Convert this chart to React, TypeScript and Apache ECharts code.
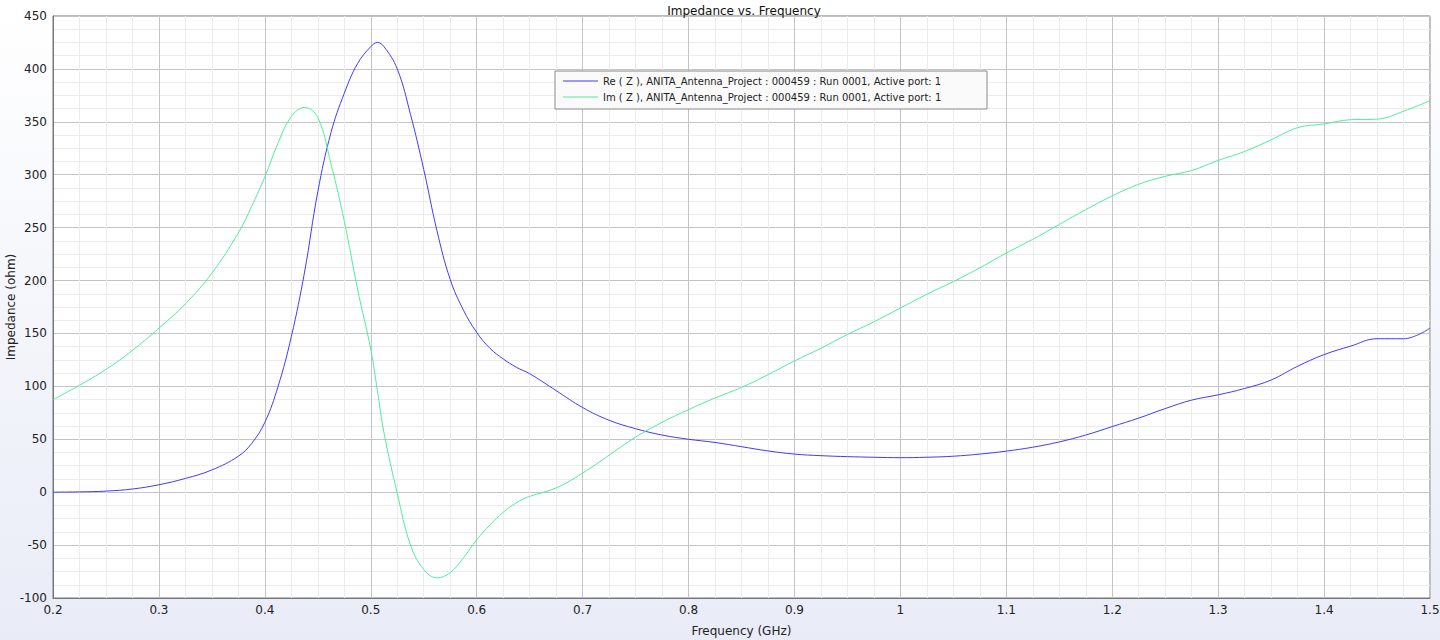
import React, { useEffect, useRef } from "react";
import * as echarts from "echarts";

const freqGHz = [
  0.2, 0.225, 0.25, 0.275, 0.3, 0.325, 0.35, 0.375, 0.3875, 0.4, 0.4125, 0.425, 0.4375, 0.45, 0.4625,
  0.475, 0.4875, 0.5, 0.50625, 0.5125, 0.525, 0.5375, 0.55, 0.5625, 0.575, 0.5875, 0.6, 0.6125, 0.625, 0.6375,
  0.65, 0.675, 0.7, 0.725, 0.75, 0.775, 0.8, 0.825, 0.85, 0.875, 0.9, 0.925, 0.95, 0.975, 1.0, 1.025,
  1.05, 1.075, 1.1, 1.125, 1.15, 1.175, 1.2, 1.225, 1.25, 1.275, 1.3, 1.325, 1.35, 1.375, 1.4, 1.425,
  1.45, 1.475, 1.5,
];

const reZ = [
  0, 0.3, 1, 3, 7, 13, 21, 34, 46, 66, 100, 147, 208, 284, 340,
  377, 405, 421, 425, 421, 400, 357, 305, 247, 201, 172, 151, 136, 126, 118,
  112, 96, 80, 68, 60, 54, 50, 47, 43, 39, 36, 34.5, 33.6, 33, 32.6, 33,
  34, 36, 38.8, 42.5, 47.5, 54, 62, 70, 79, 87, 92, 98, 106, 119, 130, 138,
  145, 145, 155,
];

const imZ = [
  87.5, 101, 116, 134, 155, 178, 207, 245, 270, 298, 330, 355, 363.5, 354, 310,
  256, 192, 135, 96, 56, -1, -50, -73, -81, -76, -62, -45, -31, -19, -10,
  -4, 4, 18, 35, 52, 66, 78, 89, 99, 111, 124, 136, 149, 161, 174, 187,
  199, 212, 226, 239, 253, 267, 280, 291, 298.5, 304, 313.5, 322, 333, 344.5, 348, 352,
  352.5, 360, 370,
];

const seriesNames = [
  "Re ( Z ), ANITA_Antenna_Project : 000459 : Run 0001, Active port: 1",
  "Im ( Z ), ANITA_Antenna_Project : 000459 : Run 0001, Active port: 1",
];

const titleText = "Impedance vs. Frequency";
const xAxisName = "Frequency (GHz)";
const yAxisName = "Impedance (ohm)";

const FONT = "DejaVu Sans";

export default function App() {
  const ref = useRef<HTMLDivElement>(null);
  useEffect(() => {
    if (!ref.current) return;
    const chart = echarts.init(ref.current, undefined, { renderer: "svg" });
    const pair = (vals: number[]) => freqGHz.map((f, i) => [f, vals[i]]);
    chart.setOption({
      animation: false,
      backgroundColor: {
        type: "linear", x: 0, y: 0, x2: 0, y2: 1,
        colorStops: [
          { offset: 0, color: "#ffffff" },
          { offset: 1, color: "#e9ecf7" },
        ],
      },
      title: {
        text: titleText,
        left: 739,
        textAlign: "center",
        top: 0,
        textStyle: { fontFamily: FONT, fontSize: 12, fontWeight: "normal", color: "#111" },
      },
      grid: {
        left: 53, right: 10, top: 16, bottom: 42,
        containLabel: false,
        outerBoundsMode: "none",
        show: true, backgroundColor: "#ffffff", borderColor: "#777", borderWidth: 1,
      },
      graphic: [
        {
          type: "rect",
          shape: { x: 555, y: 71, width: 432, height: 38 },
          style: { fill: "#fafafa", stroke: "#888", lineWidth: 1 },
          z: 50,
        },
      ],
      legend: {
        orient: "vertical",
        left: 563,
        top: 75,
        padding: 0,
        itemGap: 4,
        itemWidth: 35,
        itemHeight: 1.2,
        icon: "rect",
        z: 60,
        textStyle: { fontFamily: FONT, fontSize: 10, color: "#222", lineHeight: 12 },
        data: seriesNames,
      },
      xAxis: {
        type: "value",
        min: 0.2,
        max: 1.5,
        interval: 0.1,
        name: xAxisName,
        nameLocation: "middle",
        nameGap: 27,
        nameMoveOverlap: false,
        nameTextStyle: { fontFamily: FONT, fontSize: 12, color: "#222" },
        axisLine: { show: true, onZero: false, lineStyle: { color: "#777" } },
        axisTick: { show: false },
        axisLabel: { fontFamily: FONT, fontSize: 12, color: "#222", margin: 6 },
        splitLine: { show: true, lineStyle: { color: "#c4c4c4" } },
        minorTick: { show: false, splitNumber: 4 },
        minorSplitLine: { show: true, lineStyle: { color: "#ececec" } },
      },
      yAxis: {
        type: "value",
        min: -100,
        max: 450,
        interval: 50,
        name: yAxisName,
        nameLocation: "middle",
        nameGap: 36,
        nameMoveOverlap: false,
        nameTextStyle: { fontFamily: FONT, fontSize: 12, color: "#222" },
        axisLine: { show: true, onZero: false, lineStyle: { color: "#777" } },
        axisTick: { show: false },
        axisLabel: { fontFamily: FONT, fontSize: 12, color: "#222", margin: 6 },
        splitLine: { show: true, lineStyle: { color: "#c4c4c4" } },
        minorTick: { show: false, splitNumber: 4 },
        minorSplitLine: { show: true, lineStyle: { color: "#ececec" } },
      },
      series: [
        {
          name: seriesNames[0],
          type: "line",
          data: pair(reZ),
          symbol: "none",
          smooth: 0.4,
          lineStyle: { color: "#3c3cff", width: 1 },
          itemStyle: { color: "#3c3cff" },
        },
        {
          name: seriesNames[1],
          type: "line",
          data: pair(imZ),
          symbol: "none",
          smooth: 0.4,
          lineStyle: { color: "#4cef98", width: 1 },
          itemStyle: { color: "#4cef98" },
        },
      ],
    });
    return () => chart.dispose();
  }, []);
  return (
    <div
      ref={ref}
      style={{ position: "fixed", left: 0, top: 0, width: 1440, height: 640 }}
    />
  );
}
